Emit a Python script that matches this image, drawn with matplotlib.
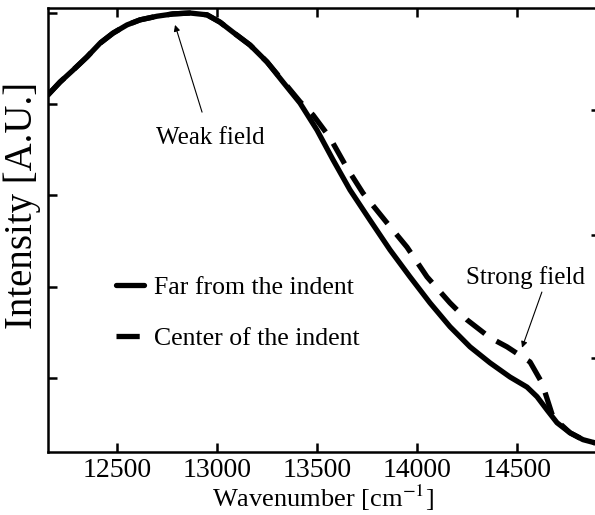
import matplotlib
matplotlib.use('Agg')
import matplotlib.pyplot as plt

plt.rcParams['font.family'] = ['Liberation Serif', 'DejaVu Serif']
plt.rcParams['mathtext.fontset'] = 'stix'

# far from the indent (solid)
far_x = [12155, 12215, 12280, 12350, 12415, 12480, 12550, 12615, 12700, 12780,
         12865, 12950, 13015, 13080, 13165, 13250, 13330, 13415, 13500, 13580,
         13665, 13765, 13865, 13965, 14065, 14165, 14265, 14365, 14465, 14550,
         14600, 14650, 14700, 14765, 14830, 14890]
far_y = [0.820, 0.848, 0.874, 0.903, 0.933, 0.955, 0.973, 0.984, 0.992, 0.997,
         0.999, 0.995, 0.979, 0.957, 0.929, 0.892, 0.848, 0.802, 0.743, 0.678,
         0.612, 0.546, 0.481, 0.422, 0.365, 0.313, 0.269, 0.234, 0.203, 0.181,
         0.160, 0.131, 0.103, 0.081, 0.066, 0.059]

# center of the indent (dashed)
ctr_x = [12155, 12215, 12280, 12350, 12415, 12480, 12550, 12615, 12700, 12780,
         12865, 12950, 13015, 13080, 13165, 13250, 13330, 13415, 13480, 13565,
         13650, 13730, 13850, 13950, 14050, 14165, 14250, 14365, 14450, 14565,
         14625, 14680, 14765, 14830, 14890]
ctr_y = [0.820, 0.848, 0.874, 0.903, 0.933, 0.955, 0.973, 0.984, 0.992, 0.997,
         0.999, 0.995, 0.979, 0.957, 0.929, 0.892, 0.850, 0.805, 0.776, 0.726,
         0.660, 0.605, 0.540, 0.487, 0.422, 0.365, 0.328, 0.289, 0.269, 0.236,
         0.190, 0.115, 0.081, 0.066, 0.059]

xticks = [12500, 13000, 13500, 14000, 14500]
yticks = [0.2, 0.4, 0.6, 0.8, 1.0]

fig = plt.figure(figsize=(5.95, 5.15), dpi=100)
ax = fig.add_axes([0.0807, 0.1223, 0.9227, 0.8622])

ax.plot(far_x, far_y, color='black', lw=3.8, solid_capstyle='round',
        solid_joinstyle='round', label='Far from the indent')
ax.plot(ctr_x, ctr_y, color='black', lw=3.8, dashes=(4.4, 2.6),
        dash_joinstyle='round', label='Center of the indent')

ax.set_xlim(12155, 14900)
ax.set_ylim(0.039, 1.010)
ax.set_xticks(xticks)
ax.set_yticks(yticks)
ax.set_yticklabels([])
ax.tick_params(axis='both', direction='in', length=6.5, width=1.8,
               labelsize=20, top=True, right=False, pad=4)
for sp in ax.spines.values():
    sp.set_linewidth(1.8)

ax2 = ax.twinx()
ax2.set_ylim(ax.get_ylim())
ax2.set_yticks([0.245, 0.514, 0.787])
ax2.set_yticklabels([])
ax2.tick_params(direction='in', length=4, width=1.8)
for sp in ax2.spines.values():
    sp.set_visible(False)

ax.set_xlabel('Wavenumber [cm$^{\\mathrm{-1}}$]', fontsize=19, labelpad=0)
ax.set_ylabel('Intensity [A.U.]', fontsize=28)
ax.yaxis.set_label_coords(-0.012, 0.556)

ax.annotate('Weak field', xy=(12790, 0.973), xytext=(12965, 0.726),
            fontsize=18, ha='center', va='center',
            arrowprops=dict(arrowstyle='-|>', color='black', lw=0.8,
                            mutation_scale=9, shrinkA=9, shrinkB=0))
ax.annotate('Strong field', xy=(14525, 0.267), xytext=(14540, 0.42),
            fontsize=18, ha='center', va='center',
            arrowprops=dict(arrowstyle='-|>', color='black', lw=0.8,
                            mutation_scale=9, shrinkA=0, shrinkB=0,
                            relpos=(0.65, 0.0)))

ax.legend(loc='upper left', bbox_to_anchor=(0.105, 0.42), frameon=False,
          fontsize=18.5, handlelength=1.1, handletextpad=0.4, labelspacing=1.1,
          borderaxespad=0)

fig.savefig('out.png', dpi=100)
